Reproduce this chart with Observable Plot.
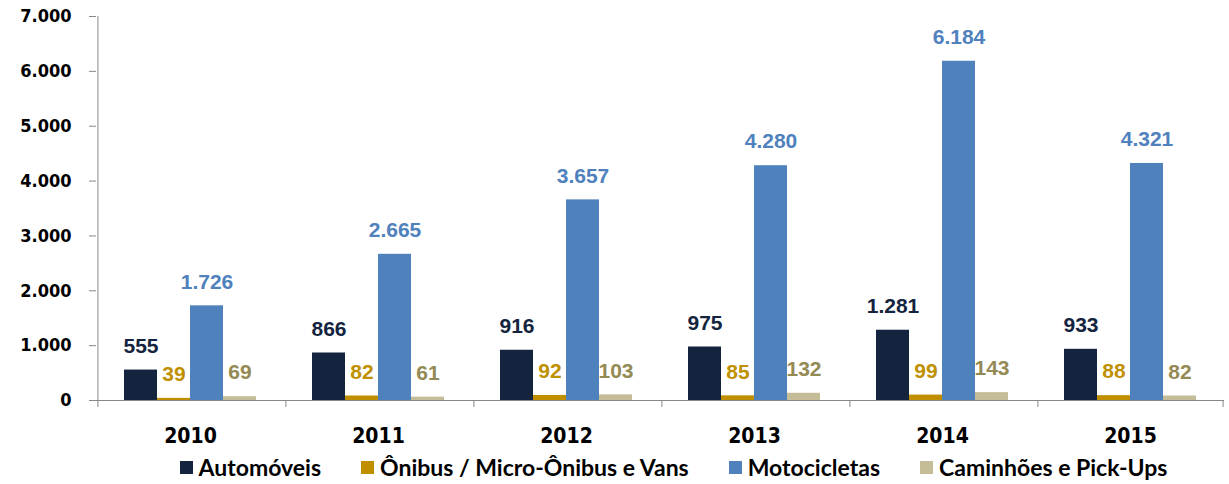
<!DOCTYPE html>
<html><head><meta charset="utf-8">
<script src="https://cdn.jsdelivr.net/npm/d3@7"></script>
<script src="https://cdn.jsdelivr.net/npm/@observablehq/plot@0.6"></script>
<style>
body{margin:0;background:#fff;}
#chart svg{display:block;}
#chart g[aria-label="y-axis tick label"] text{font-family:"DejaVu Sans Condensed","DejaVu Sans",sans-serif !important;font-size:18px !important;font-weight:bold !important;}
#legend{display:flex;justify-content:center;align-items:center;height:34px;padding-left:118px;font-family:"Lato",sans-serif;font-weight:bold;font-size:23px;color:#000;}
#legend .item{display:flex;align-items:center;margin:0 20px;}
#legend .sw{width:13px;height:13px;margin-right:6px;}
</style></head><body><div id="chart"></div><div id="legend"></div>
<script>
const years = ["2010","2011","2012","2013","2014","2015"];
const seriesNames = ["Automóveis","Ônibus / Micro-Ônibus e Vans","Motocicletas","Caminhões e Pick-Ups"];
const automoveis = [555, 866, 916, 975, 1281, 933];
const onibus = [39, 82, 92, 85, 99, 88];
const motocicletas = [1726, 2665, 3657, 4280, 6184, 4321];
const caminhoes = [69, 61, 103, 132, 143, 82];
const yTicks = [0, 1000, 2000, 3000, 4000, 5000, 6000, 7000];
const barColors = ["#14243f", "#bf8f00", "#4f81bd", "#c4bd97"];
const labelColors = ["#14243f", "#bf9000", "#4f81bd", "#948a54"];

const seriesValues = [automoveis, onibus, motocicletas, caminhoes];
const data = [];
years.forEach((yr, i) => seriesNames.forEach((s, j) => data.push({year: yr, series: s, value: seriesValues[j][i]})));

const W = 1229, H = 450, ML = 95, MR = 4, MT = 16, MB = 50;
const PO = 0.765;
const step = (W - ML - MR) / years.length;
const bw = step / (seriesNames.length + 2 * PO);
const edge = bw / 2 + PO * bw;
const fmt = d3.formatLocale({decimal: ",", thousands: ".", grouping: [3], currency: ["", ""]}).format(",d");
const axisFont = "DejaVu Sans Condensed";

const labelMarks = seriesNames.map((s, j) => Plot.text(data.filter(d => d.series === s), {
  fx: "year", x: "series", y: "value", text: d => fmt(d.value), dy: -24,
  fill: labelColors[j], fontFamily: "Liberation Sans", fontWeight: "bold", fontSize: 21
}));

const first = seriesNames[0], last = seriesNames[seriesNames.length - 1];

const chart = Plot.plot({
  width: W, height: H, marginLeft: ML, marginRight: MR, marginTop: MT, marginBottom: MB,
  style: {fontFamily: axisFont, fontWeight: "bold", fontSize: "19px", color: "black", background: "white", overflow: "visible"},
  fx: {domain: years, padding: 0, label: null, axis: null},
  x: {domain: seriesNames, paddingInner: 0, paddingOuter: PO, axis: null},
  y: {domain: [0, 7000], axis: null},
  color: {domain: seriesNames, range: barColors},
  marks: [
    Plot.barY(data, {fx: "year", x: "series", y: "value", fill: "series"}),
    ...labelMarks,
    Plot.ruleY([0], {stroke: "#888"}),
    Plot.ruleX(years, {fx: d => d, x: () => first, y1: 0, y2: 0, insetBottom: -7, dx: -edge, stroke: "#888"}),
    Plot.ruleX([years[years.length - 1]], {fx: d => d, x: () => last, y1: 0, y2: 0, insetBottom: -7, dx: edge, stroke: "#888"}),
    Plot.ruleX([years[0]], {fx: d => d, x: () => first, y1: 0, y2: 7000, dx: -edge, stroke: "#888"}),
    Plot.axisY({ticks: yTicks, tickFormat: fmt, tickSize: 7, tickPadding: 18, stroke: "#888", fill: "black", label: null}),
    Plot.axisFx({anchor: "bottom", tickSize: 0, tickPadding: 28, label: null, fontFamily: axisFont, fontWeight: "bold", fontSize: 21})
  ]
});
document.getElementById("chart").appendChild(chart);

const legend = document.getElementById("legend");
seriesNames.forEach((s, j) => {
  const it = document.createElement("div"); it.className = "item";
  const sw = document.createElement("div"); sw.className = "sw"; sw.style.background = barColors[j];
  const tx = document.createElement("span"); tx.textContent = s;
  it.appendChild(sw); it.appendChild(tx); legend.appendChild(it);
});
</script></body></html>
